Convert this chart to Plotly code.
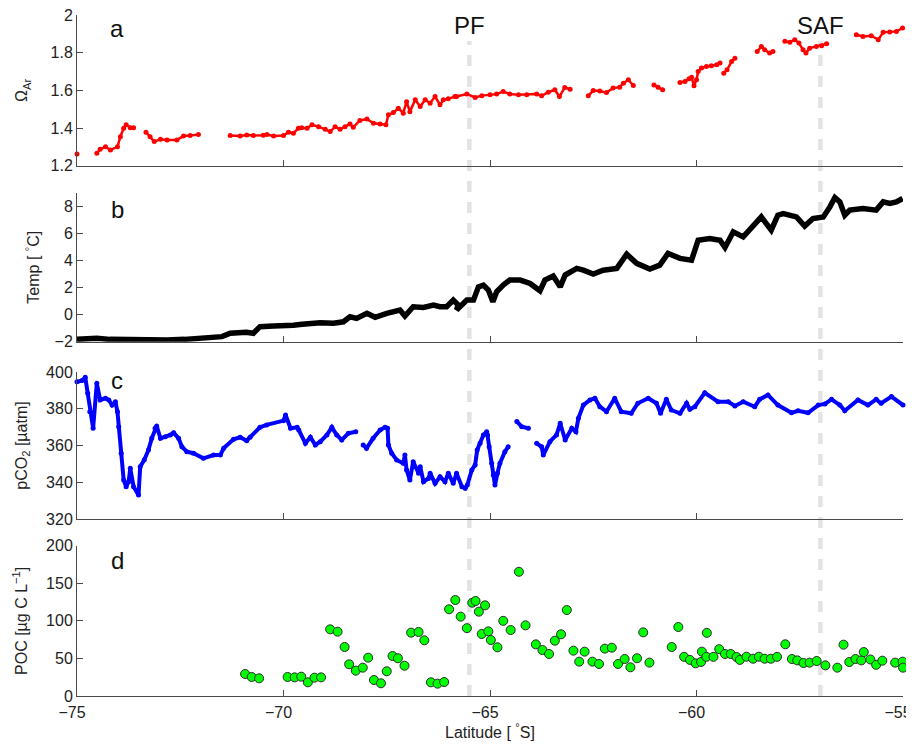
import plotly.graph_objects as go

# ---------------- data ----------------
# Panel a: aragonite saturation state (None = gap in the track)
omega_lat = [-75.0, None,
             -74.52, -74.44, -74.31, -74.19, -74.02, -73.95, -73.87, -73.81, -73.71, -73.63, None,
             -73.33, -73.23, -73.13, -72.98, -72.82, -72.58, -72.42, -72.26, -72.06, None,
             -71.29, -71.05, -70.89, -70.73, -70.49, -70.40, -70.24, -70.0, -69.88, -69.76, -69.64,
             -69.56, -69.43, -69.31, -69.15, -68.99, -68.87, -68.75, -68.63, -68.51, -68.39, -68.31,
             -68.15, -67.98, -67.82, -67.66, -67.52, -67.46, -67.34, -67.22, -67.10, -67.02, -66.94,
             -66.81, -66.69, -66.57, -66.45, -66.33, -66.21, -66.13, -66.01, -65.85, -65.81, -65.56,
             -65.36, -65.2, -65.0, -64.84, -64.68, -64.52, -64.31, -64.11, -63.87, -63.75, -63.59,
             -63.43, -63.32, -63.19, -63.06, None,
             -62.62, -62.5, -62.34, -62.18, -62.02, -61.86, -61.77, -61.65, -61.53, None,
             -61.03, -60.93, -60.82, None,
             -60.40, -60.28, -60.18, -60.12, -60.06, -60.0, -59.96, -59.88, -59.76, -59.64, -59.51,
             -59.43, None,
             -59.34, -59.26, -59.15, -59.07, None,
             -58.53, -58.43, -58.35, -58.23, -58.15, None,
             -57.86, -57.74, -57.62, -57.52, -57.42, -57.35, -57.26, -57.1, -56.97, -56.85, None,
             -56.13, -55.97, -55.77, -55.6, -55.48, -55.32, -55.16, -55.01]
omega_val = [1.262, None,
             1.266, 1.287, 1.30, 1.284, 1.30, 1.354, 1.399, 1.417, 1.402, 1.402, None,
             1.378, 1.354, 1.328, 1.34, 1.337, 1.337, 1.358, 1.36, 1.365, None,
             1.36, 1.358, 1.363, 1.36, 1.362, 1.365, 1.358, 1.36, 1.378, 1.372, 1.399,
             1.402, 1.399, 1.417, 1.407, 1.393, 1.381, 1.407, 1.393, 1.407, 1.422, 1.404,
             1.44, 1.448, 1.425, 1.422, 1.417, 1.47, 1.482, 1.505, 1.479, 1.54, 1.487,
             1.55, 1.514, 1.55, 1.532, 1.567, 1.523, 1.55, 1.555, 1.567, 1.567, 1.58,
             1.562, 1.572, 1.576, 1.58, 1.594, 1.581, 1.576, 1.576, 1.58, 1.571, 1.59,
             1.603, 1.567, 1.615, 1.606, None,
             1.571, 1.599, 1.597, 1.588, 1.612, 1.617, 1.638, 1.656, 1.626, None,
             1.629, 1.617, 1.603, None,
             1.642, 1.647, 1.661, 1.67, 1.624, 1.656, 1.70, 1.718, 1.727, 1.73, 1.736,
             1.745, None,
             1.691, 1.709, 1.753, 1.771, None,
             1.806, 1.833, 1.815, 1.798, 1.806, None,
             1.86, 1.856, 1.869, 1.851, 1.815, 1.798, 1.824, 1.833, 1.837, 1.847, None,
             1.895, 1.886, 1.89, 1.869, 1.908, 1.91, 1.913, 1.931]

# Panel b: temperature
temp_lat = [-75.0, -74.80, -74.52, -74.20, -73.63, -73.20, -72.82, -72.40, -71.69, -71.49,
            -71.29, -71.05, -70.90, -70.73, -70.57, -70.24, -70.0, -69.76, -69.55, -69.35,
            -69.11, -68.79, -68.55, -68.39, -68.23, -67.98, -67.78, -67.50, -67.18, -67.06,
            -66.86, -66.61, -66.37, -66.21, -66.05, -65.89, -65.77, -65.81, -65.56, -65.40,
            -65.28, -65.16, -65.04, -64.93, -64.84, -64.68, -64.52, -64.27, -64.03, -63.79,
            -63.67, -63.47, -63.30, -63.18, -62.90, -62.74, -62.50, -62.26, -61.93, -61.69,
            -61.45, -61.13, -60.89, -60.69, -60.40, -60.12, -59.96, -59.68, -59.43, -59.31,
            -59.23, -59.11, -58.87, -58.67, -58.43, -58.31, -58.19, -58.03, -57.90, -57.58,
            -57.38, -57.18, -56.93, -56.77, -56.65, -56.53, -56.41, -56.29, -55.97, -55.65,
            -55.48, -55.32, -55.16, -55.01]
temp_val = [-1.83, -1.80, -1.75, -1.83, -1.87, -1.80, -1.87, -1.83, -1.75, -1.63,
            -1.38, -1.34, -1.30, -1.38, -0.89, -0.84, -0.84, -0.79, -0.72, -0.64,
            -0.60, -0.64, -0.53, -0.16, -0.28, 0.09, -0.20, 0.09, 0.34, -0.11,
            0.58, 0.53, 0.70, 0.58, 0.58, 1.07, 0.70, 0.34, 1.07, 1.07,
            2.05, 2.18, 1.81, 0.95, 1.69, 2.18, 2.55, 2.55, 2.30, 1.76,
            2.55, 2.84, 2.05, 2.92, 3.41, 3.28, 2.99, 3.28, 3.41, 4.46,
            3.78, 3.36, 3.65, 4.51, 4.15, 4.02, 5.49, 5.62, 5.49, 4.95,
            5.49, 6.11, 5.74, 6.47, 7.21, 6.72, 6.23, 7.34, 7.46, 7.21,
            6.53, 7.09, 7.21, 7.95, 8.64, 8.32, 7.34, 7.71, 7.83, 7.71,
            8.32, 8.20, 8.32, 8.57]

# Panel c: surface pCO2 (None = gap)
pco2_lat = [-75.0, -74.88, -74.80, -74.74, -74.69, -74.61, -74.52, -74.44, -74.31, -74.23,
            -74.15, -74.07, -74.02, -73.99, -73.93, -73.87, -73.81, -73.75, -73.71, -73.63,
            -73.51, -73.47, -73.37, -73.27, -73.19, -73.11, -73.07, -72.98, -72.86, -72.74,
            -72.66, -72.54, -72.46, -72.34, -72.18, -71.94, -71.69, -71.53, -71.45, -71.21,
            -71.05, -70.89, -70.81, -70.57, -70.41, -70.0, -69.95, -69.83, -69.67, -69.63,
            -69.47, -69.35, -69.23, -69.11, -68.95, -68.83, -68.71, -68.59, -68.43, -68.25, None,
            -68.19, -68.07, -67.99, -67.83, -67.66, -67.54,
            -67.48, -67.46, -67.38, -67.26, -67.10, -67.06, -67.02, -66.94, -66.86, -66.73,
            -66.69, -66.61, -66.49, -66.45, -66.33, -66.21, -66.09, -66.01, -65.89, -65.81,
            -65.68, -65.60, -65.55, -65.44, -65.36, -65.31, -65.24, -65.16, -65.08, -65.06,
            -65.02, -64.96, -64.92, -64.88, -64.82, -64.76, -64.64, -64.56, None,
            -64.48, -64.35, -64.23, -64.07, None,
            -63.99, -63.87, -63.75, -63.71, -63.55, -63.39, -63.30, -63.18, -63.02, -62.92,
            -62.86, -62.74, -62.58, -62.46, -62.34, -62.18, -61.98, -61.82, -61.58, -61.42,
            -61.17, -60.97, -60.87, -60.73, -60.61, -60.40, -60.24, -60.16, -60.04, -59.80,
            -59.48, -59.23, -59.07, -58.87, -58.59, -58.47, -58.27, -58.03, -57.70, -57.54,
            -57.30, -57.05, -56.89, -56.73, -56.53, -56.41, -56.09, -55.85, -55.65, -55.53,
            -55.28, -55.00]
pco2_val = [394.7, 395.3, 397.1, 388.4, 378.4, 369.4, 393.8, 384.8, 385.7, 384.8,
            382.0, 383.8, 378.4, 370.2, 355.8, 341.2, 337.6, 340.3, 347.6, 337.6,
            333.0, 348.5, 352.2, 357.6, 363.9, 369.4, 370.6, 363.9, 364.8, 365.7,
            367.0, 363.9, 359.3, 356.6, 355.8, 353.0, 354.8, 354.8, 358.5, 363.4,
            364.5, 362.6, 364.5, 369.9, 371.2, 373.5, 376.6, 369.4, 369.9, 368.4,
            361.2, 364.5, 360.3, 362.1, 365.7, 369.9, 365.7, 363.0, 366.6, 367.5, 370.6, None,
            360.3, 358.5, 363.9, 368.4, 369.9, 369.4,
            360.3, 355.8, 352.1, 350.3, 354.8, 346.7, 341.2, 351.2, 344.9, 348.5,
            340.3, 342.1, 344.9, 339.4, 343.0, 340.3, 344.9, 339.4, 344.9, 337.6,
            336.7, 338.5, 346.7, 349.4, 357.6, 361.2, 365.7, 367.5, 365.7, 359.3,
            350.3, 344.0, 338.5, 344.9, 350.3, 356.6, 359.3, 360.3, None,
            373.0, 370.2, 369.4, 368.4, None,
            361.2, 359.3, 354.8, 362.1, 365.7, 372.1, 363.0, 369.4, 367.5, 374.8,
            382.0, 384.8, 385.7, 381.1, 378.4, 385.7, 378.4, 377.5, 383.0, 385.7,
            383.0, 377.5, 385.1, 379.3, 377.5, 383.0, 379.7, 381.1, 388.7, 383.8,
            383.8, 381.5, 383.8, 381.1, 385.1, 387.5, 382.0, 377.8, 378.9, 377.8,
            382.0, 382.6, 385.1, 382.0, 378.9, 384.8, 382.0, 385.1, 383.0, 386.6,
            382.0, 384.8]

# Panel d: particulate organic carbon
poc_lat = [-70.93, -70.77, -70.59, -69.90, -69.73, -69.57, -69.41, -69.25, -69.09, -68.87,
           -68.69, -68.52, -68.41, -68.25, -68.08, -67.95, -67.81, -67.64, -67.50, -67.36,
           -67.23, -67.07, -66.91, -66.73, -66.59, -66.43, -66.27, -66.11, -65.99, -65.84,
           -65.71, -65.56, -65.43, -65.35, -65.27, -65.20, -65.12, -65.04, -64.98, -64.82,
           -64.68, -64.50, -64.30, -64.14, -63.89, -63.73, -63.57, -63.43, -63.28, -63.14,
           -62.98, -62.84, -62.71, -62.52, -62.36, -62.22, -62.05, -61.90, -61.74, -61.60,
           -61.44, -61.29, -61.14, -60.60, -60.44, -60.30, -60.16, -60.02, -59.89, -59.87,
           -59.76, -59.75, -59.59, -59.45, -59.31, -59.17, -59.03, -58.95, -58.79, -58.63,
           -58.49, -58.35, -58.20, -58.05, -57.85, -57.69, -57.56, -57.41, -57.26, -57.09,
           -56.88, -56.59, -56.44, -56.30, -56.15, -56.01, -55.95, -55.79, -55.65, -55.50,
           -55.19, -55.01, -55.00]
poc_val = [29.3, 25.3, 23.5, 25.3, 24.8, 25.7, 18.2, 24.4, 24.8, 88.7,
           85.6, 65.2, 42.2, 33.7, 37.7, 51.0, 21.3, 16.9, 32.9, 53.2,
           50.2, 40.3, 84.3, 85.2, 74.1, 18.2, 16.4, 18.6, 115.4, 127.7,
           105.6, 90.3, 124.1, 126.4, 112.2, 82.5, 120.6, 86.0, 74.5, 64.8,
           100.0, 87.8, 165.3, 94.0, 68.7, 61.2, 55.9, 73.6, 82.1, 114.4,
           60.3, 45.7, 59.0, 45.7, 42.6, 63.0, 64.3, 42.6, 49.2, 38.2,
           50.2, 84.7, 44.4, 65.2, 91.8, 52.1, 48.0, 43.5, 45.3, 59.0,
           52.1, 84.0, 52.1, 62.3, 55.9, 55.9, 51.9, 48.0, 52.3, 49.6,
           52.3, 49.6, 49.6, 52.1, 68.8, 49.2, 47.4, 43.9, 44.4, 46.6,
           40.8, 37.7, 68.3, 45.2, 49.2, 47.4, 58.5, 48.6, 41.5, 47.0,
           44.4, 45.7, 37.7]

fronts_lat = [-65.5, -57.0]
fronts_name = ["PF", "SAF"]
panel_letters = ["a", "b", "c", "d"]
x_ticks = [-75, -70, -65, -60, -55]
x_ticktext = ["\u221275", "\u221270", "\u221265", "\u221260", "\u221255"]

# ---------------- figure ----------------
FONT = "Liberation Sans, Arial, Helvetica, sans-serif"
AX = "#4a4a4a"
FS = 16

fig = go.Figure()

fig.add_trace(go.Scatter(x=omega_lat, y=omega_val, mode="lines+markers",
                         line=dict(color="#ff0000", width=2.5),
                         marker=dict(color="#ff0000", size=5),
                         connectgaps=False, cliponaxis=False,
                         xaxis="x", yaxis="y", showlegend=False))
fig.add_trace(go.Scatter(x=temp_lat, y=temp_val, mode="lines",
                         line=dict(color="#000000", width=5.5),
                         cliponaxis=False,
                         xaxis="x2", yaxis="y2", showlegend=False))
fig.add_trace(go.Scatter(x=pco2_lat, y=pco2_val, mode="lines+markers",
                         line=dict(color="#0000ff", width=4),
                         marker=dict(color="#0000ff", size=5),
                         connectgaps=False, cliponaxis=False,
                         xaxis="x3", yaxis="y3", showlegend=False))
fig.add_trace(go.Scatter(x=poc_lat, y=poc_val, mode="markers",
                         marker=dict(color="#00ff00", size=9,
                                     line=dict(color="#2a2a2a", width=1)),
                         cliponaxis=False,
                         xaxis="x4", yaxis="y4", showlegend=False))

domains = {1: [0.7787, 1.0], 2: [0.5203, 0.7391], 3: [0.2599, 0.4758], 4: [0.0, 0.2207]}
yranges = {1: [1.2, 2.0], 2: [-2, 9], 3: [320, 400], 4: [0, 200]}
yticks = {
    1: ([1.2, 1.4, 1.6, 1.8, 2.0], ["1.2", "1.4", "1.6", "1.8", "2"]),
    2: ([-2, 0, 2, 4, 6, 8], ["\u22122", "0", "2", "4", "6", "8"]),
    3: ([320, 340, 360, 380, 400], ["320", "340", "360", "380", "400"]),
    4: ([0, 50, 100, 150, 200], ["0", "50", "100", "150", "200"]),
}
ytitles = {
    1: "\u03a9<sub>Ar</sub>",
    2: "Temp [ <sup>\u00b0</sup>C]",
    3: "pCO<sub>2</sub> [\u00b5atm]",
    4: "POC [\u00b5g C L<sup>\u22121</sup>]",
}
ystandoff = {1: 18, 2: 10, 3: 14, 4: 14}

# the page body adds an 8 px offset, so the figure is 906x739 with margins tuned to it
layout = dict(
    width=906, height=739,
    margin=dict(l=69, r=11, t=7, b=51),
    paper_bgcolor="white", plot_bgcolor="white",
    font=dict(family=FONT, size=FS, color="#222222"),
    showlegend=False,
)
for i in range(1, 5):
    xs = "" if i == 1 else str(i)
    layout["xaxis" + xs] = dict(
        domain=[0, 1], range=[-75, -55], anchor="y" + xs,
        automargin=False,
        showline=True, linecolor=AX, linewidth=1,
        ticks="inside", ticklen=6, tickcolor=AX,
        tickvals=x_ticks, ticktext=x_ticktext,
        showticklabels=(i == 4), showgrid=False, zeroline=False,
        ticklabeloverflow="allow",
        tickfont=dict(size=FS),
    )
    layout["yaxis" + xs] = dict(
        domain=domains[i], range=yranges[i], anchor="x" + xs,
        automargin=False,
        showline=True, linecolor=AX, linewidth=1,
        ticks="inside", ticklen=6, tickcolor=AX,
        tickvals=yticks[i][0], ticktext=yticks[i][1],
        showgrid=False, zeroline=False,
        ticklabeloverflow="allow",
        tickfont=dict(size=FS),
        title=dict(text=ytitles[i], font=dict(size=FS), standoff=ystandoff[i]),
    )
# the original's x labels sit ~5 px left of their ticks
layout["xaxis4"]["ticklabelshift"] = -5
layout["xaxis4"]["ticklabelstandoff"] = 2
layout["xaxis4"]["title"] = dict(text="Latitude [ <sup>\u00b0</sup>S]",
                                 font=dict(size=FS), standoff=5)
fig.update_layout(**layout)

# dashed front lines, behind the data
for lat in fronts_lat:
    fig.add_shape(type="line", xref="x4", yref="paper",
                  x0=lat, x1=lat, y0=0.0, y1=0.962,
                  line=dict(color="#e3e3e3", width=4.5, dash="11px,10px"),
                  layer="below")

for lat, name in zip(fronts_lat, fronts_name):
    fig.add_annotation(x=lat, xref="x4", y=0.985, yref="paper",
                       text=name, showarrow=False,
                       font=dict(size=24, color="#111111"),
                       xanchor="center", yanchor="middle")

letter_y = [0.980, 0.715, 0.463, 0.199]
for letter, ly in zip(panel_letters, letter_y):
    fig.add_annotation(x=0.049, xref="paper", y=ly, yref="paper",
                       text=letter, showarrow=False,
                       font=dict(size=24, color="#111111"),
                       xanchor="center", yanchor="middle")

fig.write_html("out.html")
